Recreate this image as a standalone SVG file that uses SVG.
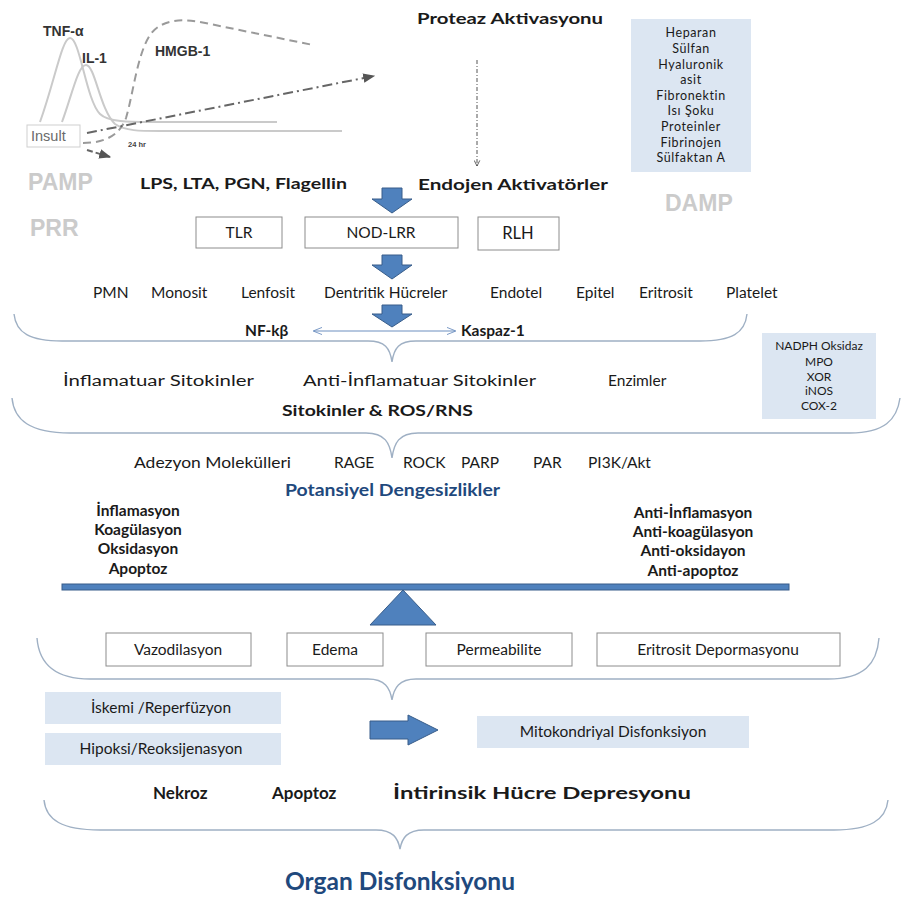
<svg xmlns="http://www.w3.org/2000/svg" width="904" height="898" viewBox="0 0 904 898">
<defs>
<style>
text{font-family:Lato,"Open Sans","Liberation Sans",sans-serif;fill:#1a1a1a}
.b{font-weight:bold}
.t15{font-size:15.5px}
.t16{font-size:16px}
.c{text-anchor:middle}
.gray{fill:#cbcbcb;font-weight:bold;font-family:"Liberation Sans",Arial,sans-serif}
.ar{font-family:"Liberation Sans",Arial,sans-serif;font-weight:bold}
.box{fill:#fff;stroke:#8c8c8c;stroke-width:1}
.lb{fill:#dce6f2;stroke:none}
.blk{fill:#4f81bd;stroke:#385d8a;stroke-width:1}
.brace{fill:none;stroke:#9fb0c4;stroke-width:1.4}
.navy{fill:#1f497d;font-weight:bold}
</style>
<marker id="ah" viewBox="0 0 10 10" refX="9" refY="5" markerWidth="6" markerHeight="6" orient="auto"><path d="M0,1 L10,5 L0,9 z" fill="#555"/></marker>
<marker id="vh" viewBox="0 0 10 10" refX="9" refY="5" markerWidth="7" markerHeight="7" orient="auto"><path d="M1,1 L9,5 L1,9" fill="none" stroke="#444" stroke-width="1.2"/></marker>
<marker id="dh" viewBox="0 0 10 10" refX="9" refY="5" markerWidth="9" markerHeight="9" orient="auto"><path d="M0,1 L10,5 L0,9" fill="none" stroke="#6d8fbf" stroke-width="1"/></marker>
<marker id="dt" viewBox="0 0 10 10" refX="1" refY="5" markerWidth="9" markerHeight="9" orient="auto"><path d="M10,1 L0,5 L10,9" fill="none" stroke="#6d8fbf" stroke-width="1"/></marker>
</defs>
<rect width="904" height="898" fill="#fff"/>

<g id="graph">
<path d="M40,122 C55,80 62,38 70,38 C80,38 86,100 100,114 C108,122 130,122 150,122 L277,122" fill="none" stroke="#cacaca" stroke-width="2"/>
<path d="M62,122 C72,95 78,65 86,65 C95,65 100,110 115,124 C125,131 140,131 160,131 L342,131" fill="none" stroke="#cacaca" stroke-width="2"/>
<path d="M83,143 C105,143 120,135 126,118 C133,95 137,55 150,35 C162,18 185,18 210,24 L313,45" fill="none" stroke="#9a9a9a" stroke-width="2" stroke-dasharray="8,5"/>
<path d="M87,133 L374,76" fill="none" stroke="#666" stroke-width="2" stroke-dasharray="10,4,2,4" marker-end="url(#ah)"/>
<path d="M87,150 L110,157" fill="none" stroke="#666" stroke-width="2" stroke-dasharray="6,3" marker-end="url(#ah)"/>
<rect x="27" y="125" width="53" height="22" fill="#fff" stroke="#cfcfcf"/>
<text x="31" y="141" font-size="14.5" style="fill:#6a6a6a;font-family:'Liberation Sans',Arial,sans-serif">Insult</text>
<text x="128" y="147" font-size="7.5" class="ar" style="fill:#444">24 hr</text>
<text x="43" y="36" font-size="14" class="ar" style="fill:#333">TNF-α</text>
<text x="82" y="63" font-size="14" class="ar" style="fill:#333">IL-1</text>
<text x="155" y="56" font-size="14" class="ar" style="fill:#333">HMGB-1</text>
</g>

<g id="labels-side">
<text x="28" y="190" font-size="23" class="gray">PAMP</text>
<text x="30" y="236" font-size="23" class="gray">PRR</text>
<text x="665" y="211" font-size="23" class="gray">DAMP</text>
</g>

<g id="pamp"><text x="140" y="189" class="b t16" textLength="207" lengthAdjust="spacingAndGlyphs">LPS, LTA, PGN, Flagellin</text></g>
<g id="proteaz"><text x="417" y="24" class="b t16" textLength="186" lengthAdjust="spacingAndGlyphs">Proteaz Aktivasyonu</text></g>
<g id="endojen"><text x="418" y="190" class="b t16" textLength="190" lengthAdjust="spacingAndGlyphs">Endojen Aktivatörler</text></g>

<g id="damp-box">
<rect x="631" y="19" width="120" height="153" class="lb"/>
<g style="letter-spacing:0.6px">
<text x="691" y="37" class="c" font-size="12.5">Heparan</text>
<text x="691" y="53" class="c" font-size="12.5">Sülfan</text>
<text x="691" y="69" class="c" font-size="12.5">Hyaluronik</text>
<text x="691" y="84" class="c" font-size="12.5">asit</text>
<text x="691" y="100" class="c" font-size="12.5">Fibronektin</text>
<text x="691" y="115" class="c" font-size="12.5">Isı Şoku</text>
<text x="691" y="131" class="c" font-size="12.5">Proteinler</text>
<text x="691" y="147" class="c" font-size="12.5">Fibrinojen</text>
<text x="691" y="162" class="c" font-size="12.5">Sülfaktan A</text>
</g>
</g>

<g id="prr-boxes">
<g id="tlr"><rect x="196" y="217" width="86" height="31" class="box"/><text x="239" y="238" class="c t15">TLR</text></g>
<g id="nod"><rect x="305" y="217" width="153" height="31" class="box"/><text x="381" y="238" class="c t15">NOD-LRR</text></g>
<g id="rlh"><rect x="478" y="217" width="81" height="33" class="box"/><text x="518" y="239" class="c" font-size="16.5">RLH</text></g>
</g>

<g id="cells">
<text x="93" y="298" class="t15">PMN</text>
<text x="151" y="298" class="t15">Monosit</text>
<text x="241" y="298" class="t15">Lenfosit</text>
<text x="324" y="298" class="t15">Dentritik Hücreler</text>
<text x="490" y="298" class="t15">Endotel</text>
<text x="576" y="298" class="t15">Epitel</text>
<text x="639" y="298" class="t15">Eritrosit</text>
<text x="726" y="298" class="t15">Platelet</text>
</g>

<g id="nfkb"><text x="245" y="336" class="b t15">NF-kβ</text></g>
<g id="kaspaz"><text x="461" y="336" class="b t15">Kaspaz-1</text></g>

<g id="mediators">
<text x="63" y="386" class="t15" textLength="191" lengthAdjust="spacingAndGlyphs">İnflamatuar Sitokinler</text>
<text x="303" y="386" class="t15" textLength="233" lengthAdjust="spacingAndGlyphs">Anti-İnflamatuar Sitokinler</text>
<text x="608" y="386" class="t15">Enzimler</text>
<text x="282" y="416" class="b t15" textLength="191" lengthAdjust="spacingAndGlyphs">Sitokinler &amp; ROS/RNS</text>
</g>

<g id="nadph-box">
<rect x="762" y="333" width="114" height="86" class="lb"/>
<text x="819" y="350" class="c" font-size="12">NADPH Oksidaz</text>
<text x="819" y="366" class="c" font-size="12">MPO</text>
<text x="819" y="381" class="c" font-size="12">XOR</text>
<text x="819" y="395" class="c" font-size="12">iNOS</text>
<text x="819" y="410" class="c" font-size="12">COX-2</text>
</g>

<g id="molecules">
<text x="134" y="468" class="t15" textLength="157" lengthAdjust="spacingAndGlyphs">Adezyon Molekülleri</text>
<text x="334" y="468" class="t15">RAGE</text>
<text x="403" y="468" class="t15">ROCK</text>
<text x="461" y="468" class="t15">PARP</text>
<text x="533" y="468" class="t15">PAR</text>
<text x="588" y="468" class="t15">PI3K/Akt</text>
</g>

<g id="potansiyel"><text x="285" y="496" class="navy" font-size="17.5" textLength="215" lengthAdjust="spacingAndGlyphs">Potansiyel Dengesizlikler</text></g>

<g id="balance-left">
<text x="138" y="516" class="c b t15">İnflamasyon</text>
<text x="138" y="535" class="c b t15">Koagülasyon</text>
<text x="138" y="554" class="c b t15">Oksidasyon</text>
<text x="138" y="574" class="c b t15">Apoptoz</text>
</g>
<g id="balance-right">
<text x="693" y="518" class="c b t15">Anti-İnflamasyon</text>
<text x="693" y="537" class="c b t15">Anti-koagülasyon</text>
<text x="693" y="556" class="c b t15">Anti-oksidayon</text>
<text x="693" y="576" class="c b t15">Anti-apoptoz</text>
</g>

<g id="balance">
<rect x="62" y="584" width="727" height="6" class="blk"/>
<path d="M403,590 L436,625 L370,625 Z" class="blk"/>
</g>

<g id="effects">
<g id="vazo"><rect x="106" y="633" width="145" height="33" class="box"/><text x="178" y="655" class="c t15">Vazodilasyon</text></g>
<g id="edema"><rect x="287" y="633" width="96" height="33" class="box"/><text x="335" y="655" class="c t15">Edema</text></g>
<g id="perm"><rect x="426" y="633" width="146" height="33" class="box"/><text x="499" y="655" class="c t15">Permeabilite</text></g>
<g id="erit"><rect x="597" y="633" width="243" height="33" class="box"/><text x="718" y="655" class="c t15">Eritrosit Depormasyonu</text></g>
</g>

<g id="iskemi"><rect x="45" y="692" width="236" height="32" class="lb"/><text x="161" y="713" class="c t15">İskemi /Reperfüzyon</text></g>
<g id="hipoksi"><rect x="45" y="733" width="236" height="32" class="lb"/><text x="161" y="754" class="c t15">Hipoksi/Reoksijenasyon</text></g>
<g id="mito"><rect x="477" y="716" width="272" height="32" class="lb"/><text x="613" y="737" class="c t15">Mitokondriyal  Disfonksiyon</text></g>

<g id="outcomes">
<text x="153" y="799" class="b" font-size="17">Nekroz</text>
<text x="272" y="799" class="b" font-size="17">Apoptoz</text>
<text x="393" y="799" class="b" font-size="17" textLength="298" lengthAdjust="spacingAndGlyphs">İntirinsik Hücre Depresyonu</text>
</g>

<g id="organ"><text x="285" y="890" class="navy" font-size="25" textLength="230" lengthAdjust="spacingAndGlyphs">Organ Disfonksiyonu</text></g>

<g id="connectors">
<path d="M477,60 L477,166" fill="none" stroke="#555" stroke-width="1" stroke-dasharray="4,2,1,2" marker-end="url(#vh)"/>
<path d="M382,188 L402,188 L402,199 L412,199 L392,213 L372,199 L382,199 Z" class="blk"/>
<path d="M382,255 L402,255 L402,265 L412,265 L392,279 L372,265 L382,265 Z" class="blk"/>
<path d="M382,305 L402,305 L402,314 L412,314 L392,327 L372,314 L382,314 Z" class="blk"/>
<path d="M314,331 L455,331" fill="none" stroke="#6d8fbf" stroke-width="1" marker-start="url(#dt)" marker-end="url(#dh)"/>
<path d="M370,721 L408,721 L408,715 L438,730 L408,745 L408,739 L370,739 Z" class="blk"/>
<path d="M14,314 C16,333 30,341 62,341 L368,341 C385,341 390,348 392,362 C394,348 399,341 416,341 L700,341 C732,341 745,333 747,314" class="brace"/>
<path d="M12,398 C14,420 30,433 70,433 L366,433 C385,433 390,443 392,458 C394,443 399,433 418,433 L850,433 C884,433 897,420 900,398" class="brace"/>
<path d="M37,638 C39,664 55,679 90,679 L368,679 C385,679 390,688 392,700 C394,688 399,679 416,679 L828,679 C864,679 877,664 879,638" class="brace"/>
<path d="M44,800 C46,820 62,830 100,830 L376,830 C393,830 398,838 400,849 C402,838 407,830 424,830 L834,830 C870,830 886,820 888,800" class="brace"/>
</g>
</svg>
